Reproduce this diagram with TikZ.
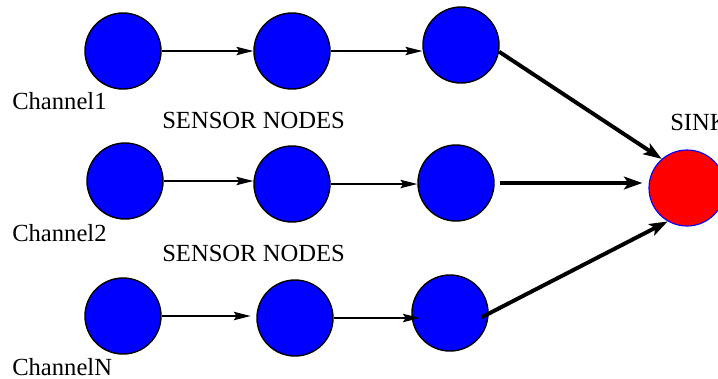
\documentclass[tikz,border=0pt]{standalone}
\usepackage{fontspec}
\setmainfont{Liberation Serif}
\usetikzlibrary{positioning,arrows.meta}

\begin{document}
\begin{tikzpicture}[x=0.025cm, y=-0.025cm,
  sensor/.style={circle, draw=black, fill=blue, line width=1pt, minimum size=1.9cm, inner sep=0pt},
  sinknode/.style={circle, draw=blue, fill=red, line width=0.8pt, minimum size=1.9cm, inner sep=0pt},
  lbl/.style={font=\fontsize{17.5}{20}\selectfont, inner sep=0pt, anchor=base west},
  hop/.style={-{Stealth[length=12pt,width=6pt,inset=2pt]}, line width=1pt},
  link/.style={-{Stealth[length=13pt,width=9pt,inset=3pt]}, line width=2.8pt}]
\useasboundingbox (0,0) rectangle (718,378);

\node[sensor] (c11) at (123,51) {};
\node[sensor] (c12) at (292,51) {};
\node[sensor] (c13) at (461,45) {};
\node[sensor] (c21) at (125,181) {};
\node[sensor] (c22) at (292,184) {};
\node[sensor] (c23) at (456,183) {};
\node[sensor] (c31) at (123,316) {};
\node[sensor] (c32) at (295,318) {};
\node[sensor] (c33) at (450,313) {};
\node[sinknode] (sink) at (687,188) {};

\node[lbl] (ch1) at (12,109) {Channel1};
\node[lbl] (sn1) at (162,128) {SENSOR NODES};
\node[lbl] (ch2) at (12,241) {Channel2};
\node[lbl] (sn2) at (162,261) {SENSOR NODES};
\node[lbl] (chn) at (12,375) {ChannelN};
\node[lbl] (snk) at (670,130) {SINK};

\draw[hop] (c11) -- (c12);
\draw[hop] (c12.east) -- (c12.east -| c13.west);
\draw[hop] (c21.east) -- (c21.east -| c22.west);
\draw[hop] (c22.east) -- (c22.east -| c23.west);
\draw[hop, shorten >=4pt] (c31.east) -- (c31.east -| c32.west);
\draw[hop, shorten >=-6pt] (c32.east) -- (c32.east -| c33.west);

\draw[link] (c13.-10) -- (sink.131);
\draw[link, shorten <=3.6pt, shorten >=4.3pt] (c23.east) -- (c23.east -| sink.west);
\draw[link] ([xshift=-5pt,yshift=-3pt]c33.east) -- (sink.240);

\end{tikzpicture}
\end{document}
